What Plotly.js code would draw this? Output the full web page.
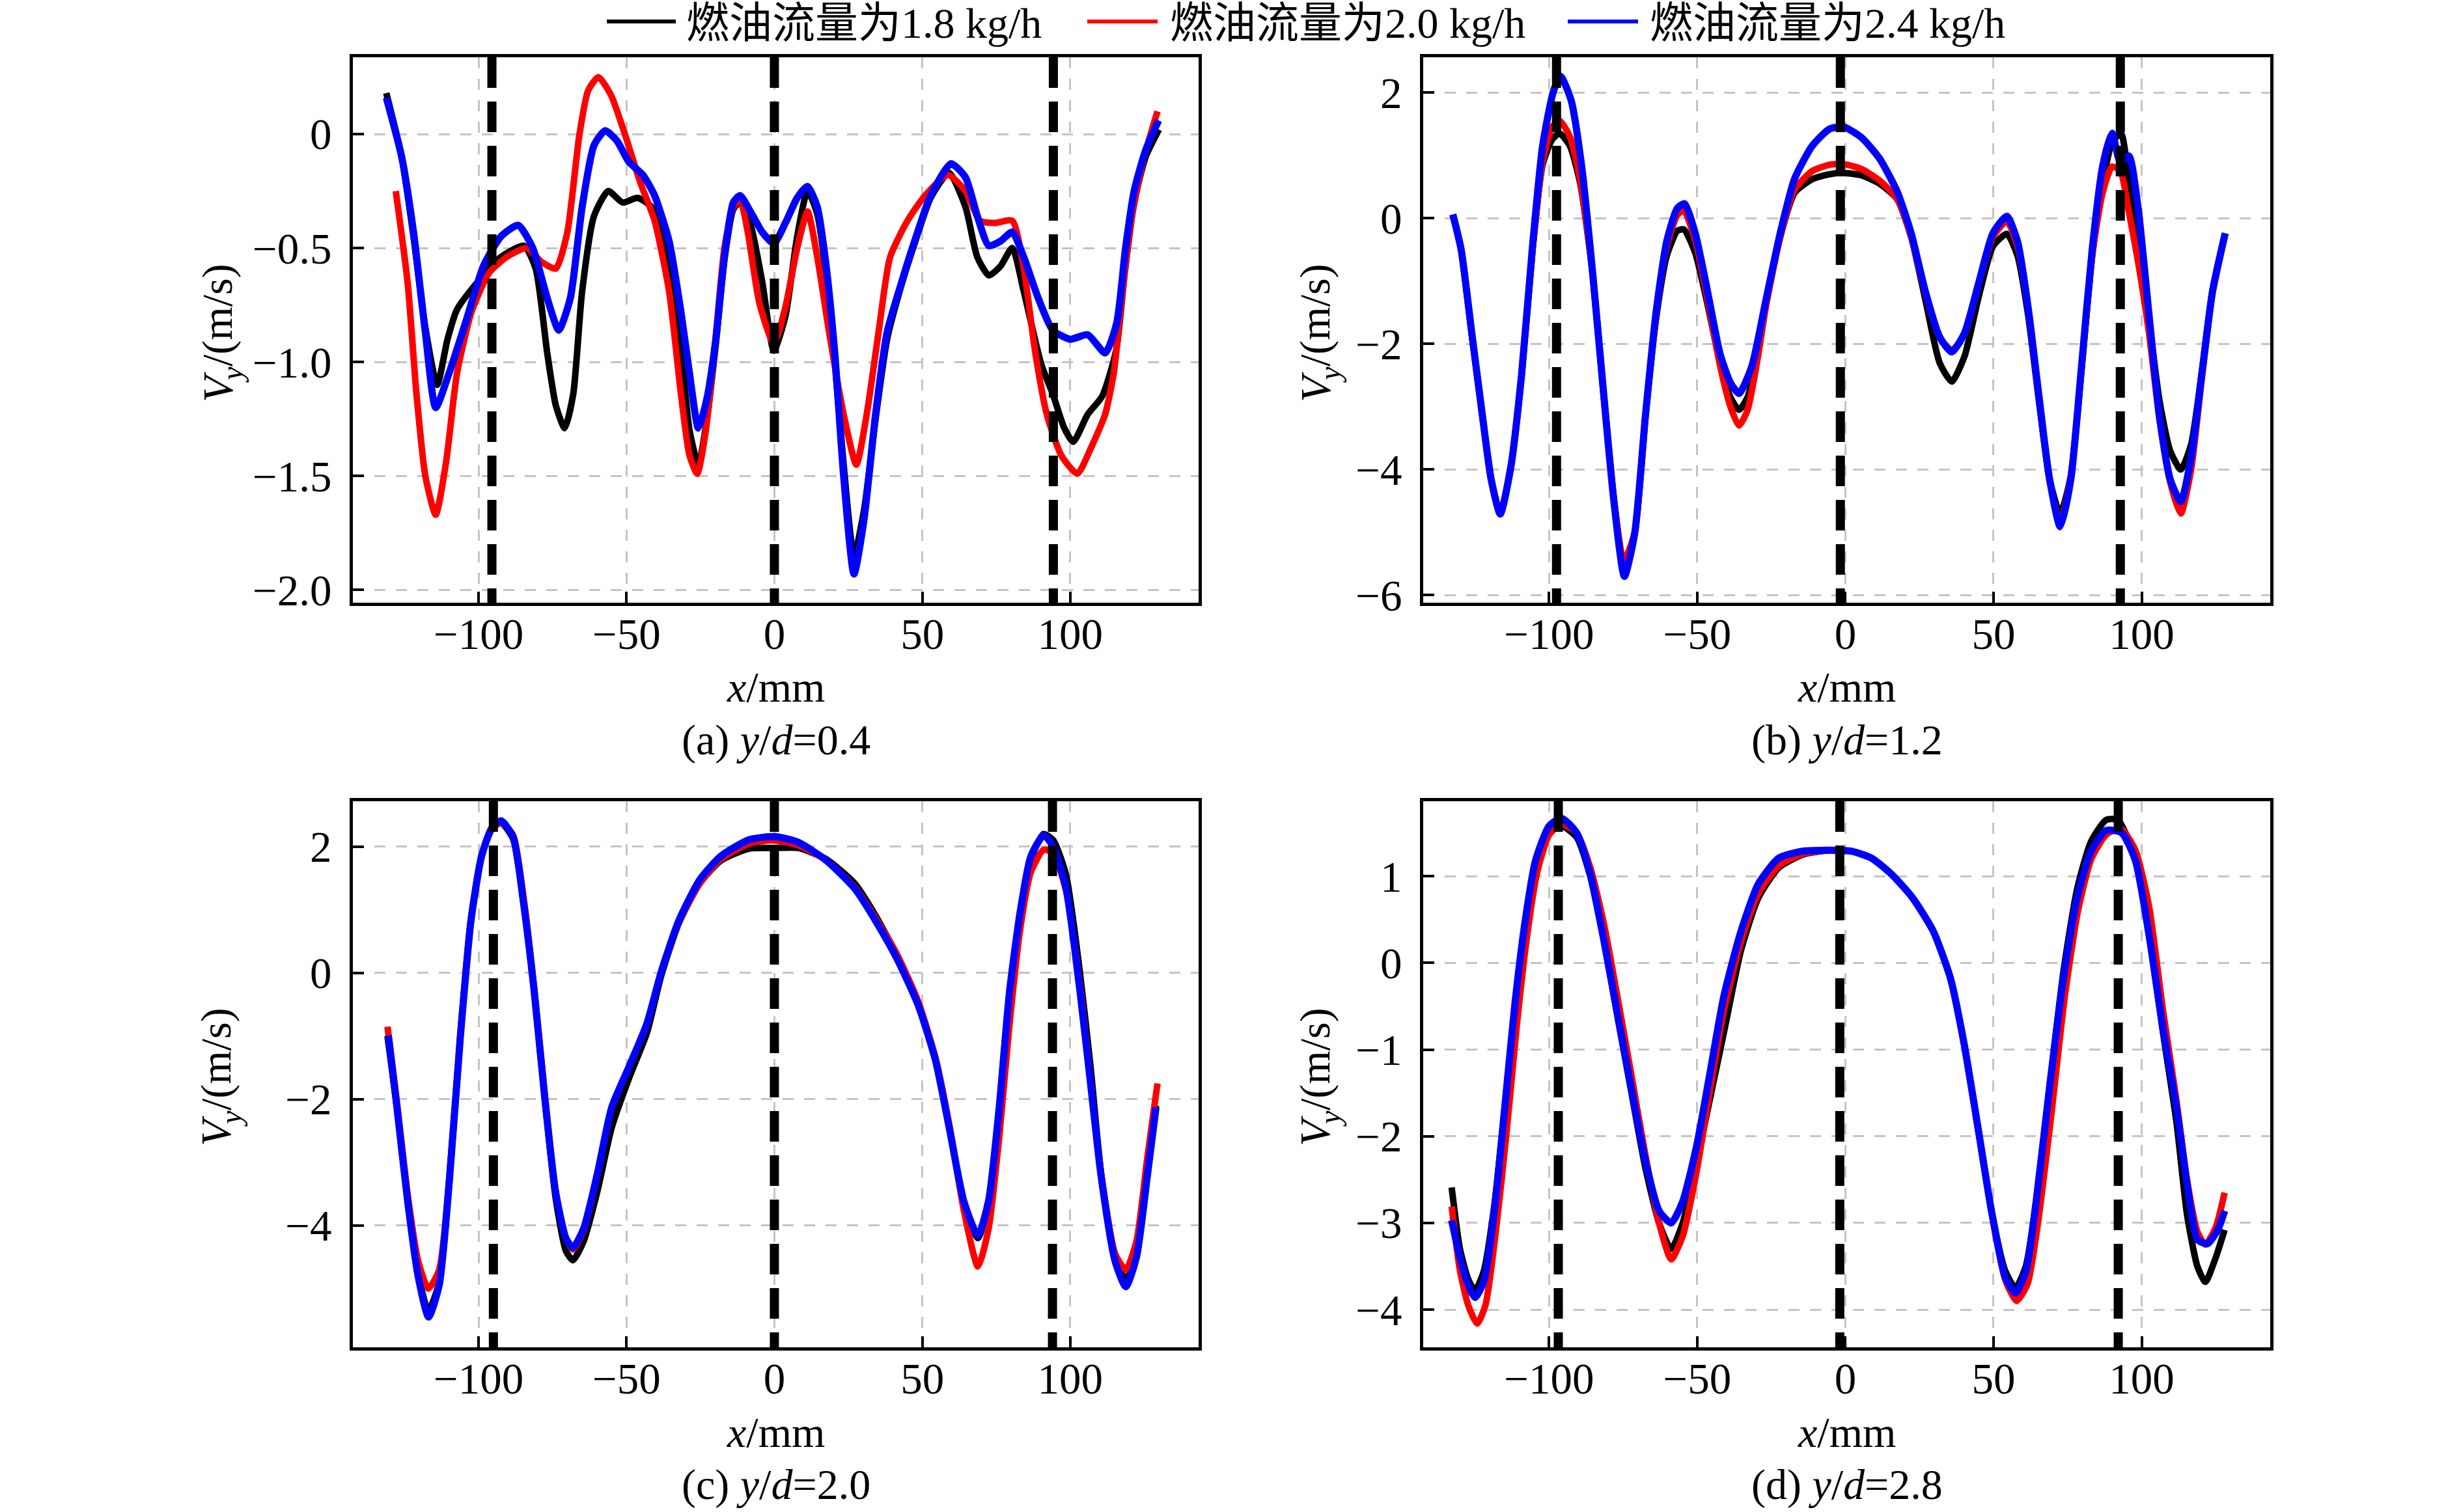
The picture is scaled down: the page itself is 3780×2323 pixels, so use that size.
<!DOCTYPE html>
<html>
<head>
<meta charset="utf-8">
<script src="https://cdn.plot.ly/plotly-3.0.1.min.js"></script>
<style>html,body{margin:0;padding:0;background:#fff;}</style>
</head>
<body>
<div id="chart" style="width:3780px;height:2323px;"></div>
<script>
// ---------- Data ----------
const seriesNames = ['燃油流量为1.8 kg/h', '燃油流量为2.0 kg/h', '燃油流量为2.4 kg/h'];
const seriesColors = ['#000000', '#ff0000', '#0000ff'];
const panelLabels = ['(a) <i>y</i>/<i>d</i>=0.4', '(b) <i>y</i>/<i>d</i>=1.2', '(c) <i>y</i>/<i>d</i>=2.0', '(d) <i>y</i>/<i>d</i>=2.8'];
const xTitleText = '<i>x</i>/mm';
const yTitleParts = ['<i>V</i>', '<i>y</i>', '/(m/s)'];   // V, subscript y, unit
const xTickVals = [-100, -50, 0, 50, 100];
const xTickText = ['−100', '−50', '0', '50', '100'];
const yTickValsA = [0, -0.5, -1.0, -1.5, -2.0];
const yTickTextA = ['0', '−0.5', '−1.0', '−1.5', '−2.0'];
const yTickValsB = [2, 0, -2, -4, -6];
const yTickTextB = ['2', '0', '−2', '−4', '−6'];
const yTickValsC = [2, 0, -2, -4];
const yTickTextC = ['2', '0', '−2', '−4'];
const yTickValsD = [1, 0, -1, -2, -3, -4];
const yTickTextD = ['1', '0', '−1', '−2', '−3', '−4'];
const markerLinesA = [-95.5, 0, 94.3];
const markerLinesB = [-97.5, -1.7, 92.8];
const markerLinesC = [-95, 0, 94];
const markerLinesD = [-96.9, -1.9, 92.1];

// Panel (a) y/d=0.4
const xA_18 = [-131.2,-126,-122,-118,-114,-110.5,-107.3,-100.4,-92.5,-84.7,-80.7,-76.8,-73.9,-70.9,-68,-65,-61,-56.2,-51.3,-46.3,-41.5,-35.6,-31.6,-28.7,-25.7,-22.8,-19.8,-16.9,-13.9,-11.6,-8,-4.1,-0.2,3.7,7.7,11.2,14.5,17.5,20.4,23.4,26.9,30.3,34.2,38.1,43,47.9,52.8,59,64.6,68.6,72.5,76.4,80.4,84.3,90.2,94.1,98,101,105.9,110.8,115.5,118.5,121.6,125.5,130];
const yA_18 = [0.18,-0.10,-0.45,-0.85,-1.10,-0.90,-0.77,-0.65,-0.54,-0.49,-0.59,-0.96,-1.19,-1.29,-1.14,-0.69,-0.36,-0.25,-0.30,-0.28,-0.32,-0.55,-0.95,-1.30,-1.45,-1.25,-0.92,-0.55,-0.33,-0.30,-0.40,-0.65,-0.95,-0.80,-0.45,-0.25,-0.35,-0.62,-1.00,-1.45,-1.85,-1.65,-1.25,-0.90,-0.66,-0.46,-0.28,-0.17,-0.32,-0.54,-0.62,-0.58,-0.50,-0.69,-1.01,-1.14,-1.29,-1.35,-1.23,-1.15,-0.95,-0.60,-0.30,-0.10,0.02];
const xA_20 = [-128,-124,-121,-118,-114.5,-111,-107.3,-102.4,-96.5,-90.6,-83.7,-78.8,-73.9,-70,-66,-63,-59.5,-55.2,-50.3,-45.4,-40.5,-35.6,-31.6,-28.7,-26.1,-23.4,-20.2,-16.9,-13.9,-11.6,-9,-5.1,-0.2,3.7,7.7,11.2,14.5,18.5,23.4,27.7,31.2,35.2,39.1,45,50.9,58.7,64.6,69.5,74.5,80.4,84.3,88.2,92.1,97,102.4,106.9,111.8,114.7,117.7,120.6,124.6,129.5];
const yA_20 = [-0.25,-0.65,-1.14,-1.50,-1.67,-1.44,-1.05,-0.78,-0.61,-0.54,-0.50,-0.56,-0.59,-0.43,-0.01,0.19,0.25,0.17,-0.01,-0.21,-0.38,-0.69,-1.14,-1.41,-1.49,-1.32,-0.94,-0.50,-0.32,-0.29,-0.43,-0.74,-0.92,-0.76,-0.50,-0.34,-0.54,-0.87,-1.23,-1.45,-1.23,-0.87,-0.54,-0.38,-0.27,-0.18,-0.25,-0.38,-0.39,-0.38,-0.59,-0.96,-1.23,-1.41,-1.49,-1.38,-1.23,-1.05,-0.69,-0.38,-0.12,0.10];
const xA_24 = [-131.2,-126,-122,-118,-114.5,-110,-104,-98.4,-92.5,-86.6,-81.7,-76.8,-72.9,-69,-65,-61,-57.2,-53.2,-49.3,-44.4,-40.5,-35.6,-31.6,-28.7,-25.7,-22.8,-19.8,-16.9,-13.9,-11.6,-8.1,-4.1,-0.2,3.7,7.7,11.2,14.5,17.5,20.4,23.4,26.9,30.3,34.2,38.1,43,47.9,52.8,59.7,64.6,68.6,72.5,76.4,80.4,84.3,89.2,94.1,100,105.9,111.8,115.7,118.7,121.6,125.5,129.9];
const yA_24 = [0.16,-0.10,-0.43,-0.87,-1.20,-1.05,-0.81,-0.58,-0.45,-0.40,-0.50,-0.72,-0.86,-0.72,-0.32,-0.05,0.015,-0.03,-0.12,-0.18,-0.27,-0.47,-0.78,-1.05,-1.29,-1.16,-0.90,-0.54,-0.30,-0.27,-0.34,-0.43,-0.48,-0.39,-0.28,-0.23,-0.32,-0.58,-0.96,-1.50,-1.93,-1.69,-1.23,-0.87,-0.65,-0.45,-0.27,-0.13,-0.19,-0.36,-0.49,-0.47,-0.43,-0.54,-0.72,-0.86,-0.90,-0.88,-0.96,-0.83,-0.50,-0.25,-0.07,0.06];

// Panel (b) y/d=1.2
const xB_18 = [-132.5,-129.7,-126.1,-122.5,-119.6,-116.5,-112.9,-109.3,-105.7,-102.2,-99,-96.5,-93,-89.5,-85.4,-81.8,-78.2,-74.8,-71.1,-67.5,-63.9,-60.3,-56.7,-54.5,-50.7,-47.1,-42.3,-38.8,-35.9,-33,-29.5,-26.8,-22,-17.2,-11.2,-5.3,-0.5,5.5,11.5,17.5,22.2,27,31.8,35.9,40.2,45,49.8,54.5,58.1,61.7,65.3,68.9,72.5,76.1,79.7,83.3,86.8,90,93,95.7,98.8,102.4,106,109.6,113.2,116.7,120.3,123.9,128.2];
const yB_18 = [0.05,-0.50,-1.85,-3.15,-4.15,-4.70,-3.95,-2.50,-0.55,0.85,1.25,1.35,1.15,0.55,-0.85,-2.70,-4.45,-5.55,-5.00,-3.15,-1.60,-0.60,-0.20,-0.18,-0.55,-1.25,-2.30,-2.85,-3.05,-2.85,-2.10,-1.35,-0.30,0.40,0.62,0.70,0.72,0.68,0.55,0.30,-0.30,-1.30,-2.30,-2.60,-2.20,-1.25,-0.45,-0.25,-0.60,-1.55,-2.90,-4.15,-4.70,-4.10,-2.40,-0.60,0.55,1.20,1.35,0.60,-0.40,-1.60,-2.90,-3.70,-4.00,-3.60,-2.45,-1.15,-0.25];
const xB_20 = [-132.5,-129.7,-126.1,-122.5,-119.6,-116.5,-112.9,-109.3,-105.7,-102.2,-99,-96.5,-93,-89.5,-85.4,-81.8,-78.2,-74.8,-71.1,-67.5,-63.9,-60.3,-56.7,-54.5,-50.7,-47.1,-42.3,-38.8,-35.9,-33,-29.5,-26.8,-22,-17.2,-11.2,-5.3,-0.5,5.5,11.5,17.5,22.2,27,31.8,35.9,40.2,45,49.8,54.5,58.1,61.7,65.3,68.9,72.5,76.1,79.7,83.3,86.8,90,92.8,95.7,98.8,102.4,106,109.6,113.2,116.7,120.3,123.9,128.2];
const yB_20 = [0.05,-0.50,-1.85,-3.15,-4.15,-4.70,-3.95,-2.50,-0.55,0.90,1.45,1.55,1.30,0.60,-0.85,-2.70,-4.45,-5.45,-5.00,-3.15,-1.55,-0.45,0.05,0.12,-0.35,-1.15,-2.35,-3.00,-3.30,-3.05,-2.20,-1.40,-0.30,0.45,0.75,0.85,0.86,0.78,0.60,0.30,-0.30,-1.20,-1.90,-2.10,-1.85,-1.05,-0.30,-0.05,-0.45,-1.45,-2.85,-4.15,-4.85,-4.10,-2.40,-0.60,0.40,0.82,0.75,0.10,-0.70,-1.80,-3.20,-4.20,-4.70,-4.00,-2.55,-1.20,-0.25];
const xB_24 = [-132.5,-129.7,-126.1,-122.5,-119.6,-116.5,-112.9,-109.3,-105.7,-102.2,-98.6,-96.2,-92.6,-89,-85.4,-81.8,-78.2,-74.6,-71.1,-67.5,-63.9,-60.3,-56.7,-54.3,-50.7,-47.1,-42.3,-38.8,-35.9,-31.6,-26.8,-22,-17.2,-11.2,-5.3,-0.5,5.5,11.5,17.5,22.2,27,31.8,35.9,40.2,45,49.8,54.5,58.1,61.7,65.3,68.9,72.5,76.1,79.7,83.3,86.8,90,92.8,95.7,98.8,102.4,106,109.6,113.2,116.7,120.3,123.9,128.2];
const yB_24 = [0.06,-0.50,-1.83,-3.15,-4.15,-4.71,-3.95,-2.49,-0.50,1.15,2.01,2.26,1.88,0.82,-0.83,-2.69,-4.48,-5.70,-5.01,-3.15,-1.50,-0.37,0.16,0.23,-0.24,-1.03,-2.16,-2.62,-2.79,-2.36,-1.30,-0.24,0.62,1.15,1.42,1.45,1.28,0.95,0.42,-0.24,-1.17,-1.89,-2.13,-1.83,-1.03,-0.24,0.03,-0.37,-1.43,-2.82,-4.15,-4.91,-4.15,-2.36,-0.50,0.82,1.35,0.89,0.99,0.16,-1.50,-3.15,-4.15,-4.51,-3.81,-2.49,-1.17,-0.24];

// Panel (c) y/d=2.0
const xC_18 = [-130.8,-127.6,-124,-120.5,-117,-113.3,-109.8,-106.2,-102.6,-99,-95.5,-92.4,-88.3,-84.8,-81.2,-77.6,-74,-70.5,-68.1,-64.5,-59.8,-55,-49,-43.1,-38.3,-32.4,-25.2,-18.1,-8.6,0,8.1,17.6,27.1,34.3,41.4,48.6,54.5,59.3,64,68.8,72.4,76,79.5,83.1,86.7,91,94.3,98.6,103.3,106.9,110.5,115.2,118.8,122.4,126,129];
const yC_18 = [-1.00,-2.13,-3.60,-4.75,-5.35,-4.90,-3.24,-1.03,0.82,1.85,2.28,2.38,2.12,1.10,-0.30,-2.00,-3.55,-4.40,-4.55,-4.25,-3.45,-2.45,-1.65,-0.95,-0.05,0.78,1.42,1.78,1.97,1.98,1.98,1.80,1.42,0.90,0.28,-0.50,-1.40,-2.50,-3.62,-4.20,-3.65,-2.15,-0.30,0.95,1.80,2.20,2.10,1.55,0.00,-1.50,-3.20,-4.55,-4.85,-4.45,-3.20,-2.10];
const xC_20 = [-130.8,-127.6,-124,-120.5,-117,-113.3,-109.8,-106.2,-102.6,-99,-95.5,-92.4,-88.3,-84.8,-81.2,-77.6,-74,-70.5,-68.1,-64.5,-59.8,-55,-49,-43.1,-38.3,-32.4,-25.2,-18.1,-8.6,0,8.1,17.6,27.1,34.3,41.4,48.6,54.5,59.3,64,68.8,72.4,76,79.5,83.1,86.7,91,94.3,98.6,103.3,106.9,110.5,115.2,118.8,122.4,126,129.5];
const yC_20 = [-0.85,-2.05,-3.50,-4.55,-5.00,-4.70,-3.20,-1.00,0.85,1.85,2.28,2.38,2.18,1.20,-0.25,-1.95,-3.45,-4.20,-4.38,-4.08,-3.20,-2.15,-1.48,-0.82,0.00,0.80,1.42,1.80,2.05,2.10,2.02,1.78,1.36,0.86,0.30,-0.45,-1.35,-2.45,-3.75,-4.65,-4.05,-2.60,-0.80,0.70,1.60,1.95,1.90,1.30,-0.20,-1.70,-3.20,-4.45,-4.70,-4.25,-2.95,-1.75];
const xC_24 = [-130.5,-127.6,-124,-120.5,-116.9,-113.3,-109.8,-106.2,-102.6,-99,-95.5,-92.4,-88.3,-84.8,-81.2,-77.6,-74,-70.5,-68.1,-64.5,-59.8,-55,-49,-43.1,-38.3,-32.4,-25.2,-18.1,-8.6,0,8.1,17.6,27.1,34.3,41.4,48.6,54.5,59.3,64,68.8,72.4,76,79.5,83.1,86.7,91,94.3,98.6,103.3,106.9,110.5,115.2,118.8,122.4,126,129];
const yC_24 = [-0.99,-2.13,-3.61,-4.79,-5.45,-4.94,-3.24,-1.03,0.82,1.85,2.30,2.41,2.15,1.11,-0.29,-1.99,-3.46,-4.20,-4.35,-4.05,-3.17,-2.13,-1.47,-0.80,0.01,0.82,1.48,1.85,2.11,2.16,2.07,1.78,1.34,0.82,0.23,-0.51,-1.39,-2.50,-3.61,-4.16,-3.61,-2.13,-0.29,0.97,1.85,2.18,2.00,1.34,-0.29,-1.76,-3.24,-4.57,-4.97,-4.50,-3.24,-2.13];

// Panel (d) y/d=2.8
const xD_18 = [-132.9,-130.1,-127.3,-125,-122,-118.5,-115,-111.6,-108.1,-104.6,-100,-95.8,-90.7,-86.1,-81.5,-76.9,-72.2,-67.6,-62.9,-58.8,-54.9,-50.2,-45.6,-41,-35.2,-29.4,-22.5,-14.4,-5.1,1.9,8.8,15.7,22.7,29.6,35.4,40,44.7,49.3,53.9,57.4,60.9,64.4,69,73.6,78.2,82.9,88,92,97.9,102.5,107.2,111.8,115.3,118.8,121.5,125,128];
const yD_18 = [-2.59,-3.30,-3.65,-3.78,-3.55,-2.80,-1.68,-0.50,0.45,1.12,1.50,1.58,1.45,1.00,0.25,-0.62,-1.50,-2.35,-3.00,-3.30,-3.00,-2.30,-1.55,-0.80,0.15,0.75,1.10,1.25,1.30,1.29,1.21,1.02,0.75,0.37,-0.17,-0.92,-1.89,-2.86,-3.55,-3.75,-3.50,-2.75,-1.41,-0.10,0.85,1.40,1.65,1.65,1.20,0.32,-0.80,-1.85,-2.90,-3.50,-3.68,-3.40,-3.08];
const xD_20 = [-132.9,-130.1,-127.3,-124.3,-121.5,-118,-114.5,-111,-107.5,-104,-100,-95.8,-90.7,-86.1,-81.5,-76.9,-72.2,-67.6,-62.9,-58.8,-54.9,-50.2,-45.6,-41,-35.2,-29.4,-22.5,-14.4,-5.1,1.9,8.8,15.7,22.7,29.6,35.4,40,44.7,49.3,53.9,57.8,61.5,65,69.5,74,78.5,83,88,93,97.9,102.5,107.2,111.8,115.3,118.8,121.5,125,128];
const yD_20 = [-2.81,-3.55,-3.95,-4.16,-3.95,-3.10,-2.00,-0.75,0.30,1.05,1.48,1.60,1.50,1.10,0.45,-0.40,-1.30,-2.20,-3.00,-3.42,-3.15,-2.40,-1.45,-0.55,0.25,0.80,1.12,1.26,1.30,1.29,1.21,1.02,0.75,0.37,-0.17,-0.92,-1.89,-2.86,-3.65,-3.90,-3.70,-3.00,-1.75,-0.40,0.60,1.20,1.48,1.55,1.30,0.65,-0.55,-1.60,-2.50,-3.10,-3.25,-3.05,-2.65];
const xD_24 = [-132.9,-130.1,-127.3,-125,-122,-118.5,-115,-111.6,-108.1,-104.6,-100,-95.8,-90.7,-86.1,-81.5,-76.9,-72.2,-67.6,-62.9,-58.8,-54.9,-50.2,-45.6,-41,-35.2,-29.4,-22.5,-14.4,-5.1,1.9,8.8,15.7,22.7,29.6,35.4,40,44.7,49.3,53.9,57.4,60.9,64.4,69,73.6,78.2,82.9,88,93.3,97.9,102.5,107.2,111.8,115.3,118.8,122.2,125.7,128];
const yD_24 = [-2.97,-3.40,-3.72,-3.86,-3.67,-2.86,-1.68,-0.49,0.48,1.18,1.58,1.67,1.50,1.02,0.26,-0.60,-1.46,-2.27,-2.86,-3.00,-2.75,-2.11,-1.25,-0.38,0.37,0.91,1.21,1.29,1.30,1.29,1.21,1.02,0.75,0.37,-0.17,-0.92,-1.89,-2.86,-3.62,-3.81,-3.56,-2.75,-1.41,-0.17,0.75,1.29,1.53,1.50,1.18,0.32,-0.76,-1.68,-2.54,-3.19,-3.24,-3.08,-2.86];

// ---------- Build ----------
const W = 3780, H = 2323;
const px = v => v / W;
const py = v => 1 - v / H;

const panels = [
  {xa:'x',  ya:'y',  xs:[xA_18,xA_20,xA_24], ys:[yA_18,yA_20,yA_24], marks:markerLinesA},
  {xa:'x2', ya:'y2', xs:[xB_18,xB_20,xB_24], ys:[yB_18,yB_20,yB_24], marks:markerLinesB},
  {xa:'x3', ya:'y3', xs:[xC_18,xC_20,xC_24], ys:[yC_18,yC_20,yC_24], marks:markerLinesC},
  {xa:'x4', ya:'y4', xs:[xD_18,xD_20,xD_24], ys:[yD_18,yD_20,yD_24], marks:markerLinesD}
];

const traces = [];
panels.forEach(p => {
  for (let s = 0; s < 3; s++) {
    traces.push({
      type:'scatter', mode:'lines', name:seriesNames[s], showlegend:false,
      x:p.xs[s], y:p.ys[s], xaxis:p.xa, yaxis:p.ya,
      line:{color:seriesColors[s], width:s === 2 ? 11 : 10, shape:'spline', smoothing:0.6}
    });
  }
});

const FONT = 'Liberation Serif';
const tickFont = {family:FONT, size:67, color:'#000'};

function xAxis(domain, anchor) {
  return {
    domain:domain, anchor:anchor, range:[-142.5, 143.4],
    tickvals:xTickVals, ticktext:xTickText,
    showline:true, linecolor:'#000', linewidth:5, mirror:true,
    ticks:'inside', ticklen:17, tickwidth:4, tickcolor:'#000',
    showgrid:true, gridcolor:'#c4c4c4', gridwidth:3, griddash:'17px,16px',
    zeroline:false, tickfont:tickFont, ticklabelstandoff:-14
  };
}
function yAxis(domain, anchor, range, vals, text) {
  return {
    domain:domain, anchor:anchor, range:range,
    tickvals:vals, ticktext:text,
    showline:true, linecolor:'#000', linewidth:5, mirror:true,
    ticks:'inside', ticklen:17, tickwidth:4, tickcolor:'#000',
    showgrid:true, gridcolor:'#c4c4c4', gridwidth:3, griddash:'17px,16px',
    zeroline:false, tickfont:tickFont, ticklabelstandoff:14
  };
}

const xL = [px(542), px(1841)], xR = [px(2186), px(3487)];
const yT = [py(926), py(88)], yB = [py(2070), py(1231)];

const shapes = [];
panels.forEach(p => {
  p.marks.forEach(m => {
    shapes.push({type:'line', xref:p.xa, yref:p.ya + ' domain', x0:m, x1:m, y0:1, y1:0,
      line:{color:'#000', width:14, dash:'47px,21px'}, layer:'above'});
  });
});

// Legend (drawn as lines + text at the top)
const legendLineX = [[932, 1038], [1670, 1778], [2408, 2516]];
const legendTextX = [1052, 1795, 2532];
const annotations = [];
for (let s = 0; s < 3; s++) {
  shapes.push({type:'line', xref:'paper', yref:'paper', x0:px(legendLineX[s][0]), x1:px(legendLineX[s][1]),
    y0:py(33), y1:py(33), line:{color:seriesColors[s], width:6}});
  annotations.push({xref:'paper', yref:'paper', x:px(legendTextX[s]), y:py(36), xanchor:'left', yanchor:'middle',
    text:seriesNames[s], showarrow:false, font:{family:FONT + ', Noto Sans CJK SC', size:66, color:'#000'}});
}
// Panel captions and axis titles
const capX = [(542+1841)/2, (2186+3487)/2, (542+1841)/2, (2186+3487)/2];
const capY = [1137, 1137, 2281, 2281];
const xTitleY = [1056, 1056, 2200, 2200];
const yTitleX = [334, 2020, 332, 2020];
const yTitleY = [507, 507, 1650, 1650];
function addText(x, y, text, size, angle) {
  annotations.push({xref:'paper', yref:'paper', x:px(x), y:py(y), xanchor:'center', yanchor:'middle',
    textangle:angle || 0, text:text, showarrow:false, font:{family:FONT, size:size, color:'#000'}});
}
for (let i = 0; i < 4; i++) {
  addText(capX[i], capY[i], panelLabels[i], 66, 0);
  addText(capX[i], xTitleY[i], xTitleText, 66, 0);
  // y title: "V" + subscript "y" + "/(m/s)", written bottom-to-top
  addText(yTitleX[i], yTitleY[i] + 88, yTitleParts[0], 66, -90);
  addText(yTitleX[i] + 22, yTitleY[i] + 69, yTitleParts[1], 46, -90);
  addText(yTitleX[i], yTitleY[i] - 23, yTitleParts[2], 66, -90);
}

const layout = {
  width:W, height:H, margin:{l:0, r:0, t:0, b:0},
  paper_bgcolor:'#fff', plot_bgcolor:'#fff', showlegend:false,
  font:{family:FONT, color:'#000', size:66},
  xaxis:xAxis(xL, 'y'), yaxis:yAxis(yT, 'x', [-2.056, 0.337], yTickValsA, yTickTextA),
  xaxis2:xAxis(xR, 'y2'), yaxis2:yAxis(yT, 'x2', [-6.12, 2.56], yTickValsB, yTickTextB),
  xaxis3:xAxis(xL, 'y3'), yaxis3:yAxis(yB, 'x3', [-5.93, 2.72], yTickValsC, yTickTextC),
  xaxis4:xAxis(xR, 'y4'), yaxis4:yAxis(yB, 'x4', [-4.435, 1.866], yTickValsD, yTickTextD),
  shapes:shapes, annotations:annotations
};

Plotly.newPlot('chart', traces, layout, {displayModeBar:false, responsive:false, staticPlot:true});
</script>
</body>
</html>
